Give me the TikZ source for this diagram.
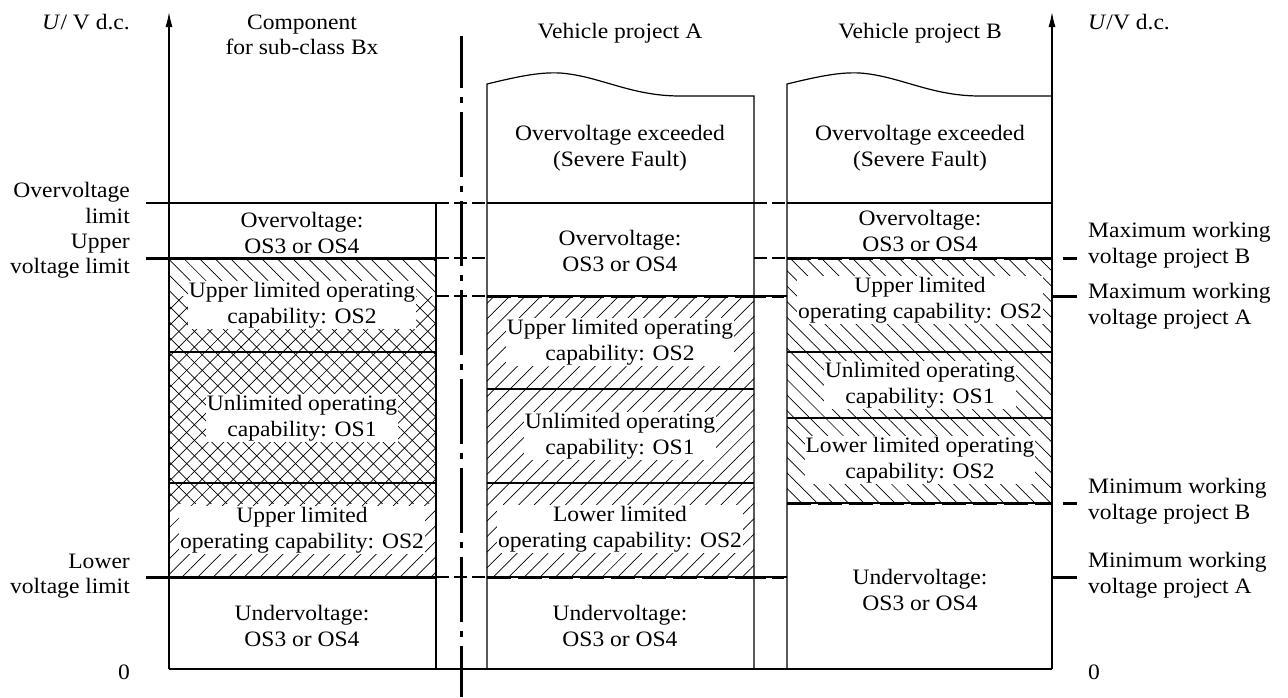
\documentclass[tikz,border=0pt]{standalone}
\usepackage{fontspec}
\setmainfont{Liberation Serif}[FakeStretch=1.07]
\usetikzlibrary{patterns.meta,arrows.meta}
\begin{document}
\begin{tikzpicture}[x=1pt,y=-1pt,
  ln/.style={line width=1.2pt},
  thk/.style={line width=3pt},
  cdash/.style={line width=1.2pt,dash pattern=on 13pt off 5pt},
  tdash/.style={line width=3pt,dash pattern=on 24pt off 7pt},
  sdash/.style={line width=3pt,dash pattern=on 12pt off 6pt},
  ddot/.style={line width=3pt,dash pattern=on 65pt off 9pt on 6pt off 9pt,dash phase=13pt},
  txt/.style={font=\fontsize{22}{25.5}\selectfont,inner sep=1pt},
  cl/.style={txt,align=center},
  wl/.style={cl,fill=white},
  ll/.style={txt,align=right,anchor=east},
  rl/.style={txt,align=left,anchor=west},
  hne/.style={pattern={Lines[angle=45,distance=11pt,line width=0.7pt]}},
  hnw/.style={pattern={Lines[angle=-45,distance=11pt,line width=0.7pt]}},
  axarrow/.style={ln,-{Latex[length=15pt,width=7pt]}}]
\useasboundingbox (0,0) rectangle (1288,697);
\fill[white] (0,0) rectangle (1288,697);

% hatching
\fill[hnw] (169,258) rectangle (436,503);
\fill[hne] (169,296) rectangle (436,577);
\fill[hne] (487,296) rectangle (754,577);
\fill[hnw] (787,258) rectangle (1052,503);

% axes
\coordinate (L0) at (169,669); \coordinate (L1) at (169,12);
\coordinate (R0) at (1052,669); \coordinate (R1) at (1052,12);
\draw[axarrow] (L0) -- (L1);
\draw[axarrow] (R0) -- (R1);

% left column
\draw[ln] (146,203) -- (436,203);
\draw[ln] (436,203) -- (436,669);
\draw[ln] (169,352) -- (436,352);
\draw[ln] (169,483) -- (436,483);
\draw[thk] (146,258) -- (436,258);
\draw[thk] (146,577) -- (436,577);
\draw[ln] (L0) -- (R0);

% column A
\draw[ln] (487,669) -- (487,84) .. controls (520,76) and (540,72) .. (560,73) .. controls (600,76) and (630,96) .. (680,96) -- (754,96) -- (754,669);
\draw[ln] (487,203) -- (754,203);
\draw[ln] (487,389) -- (754,389);
\draw[ln] (487,483) -- (754,483);
\draw[ln] (487,296) -- (754,296); \draw[tdash] (487,296) -- (754,296);
\draw[ln] (487,577) -- (754,577); \draw[tdash] (487,577) -- (754,577);

% column B
\draw[ln] (787,669) -- (787,84) .. controls (820,76) and (840,72) .. (860,73) .. controls (900,76) and (930,96) .. (980,96) -- (1052,96);
\draw[ln] (787,203) -- (1052,203);
\draw[ln] (787,352) -- (1052,352);
\draw[ln] (787,418) -- (1052,418);
\draw[ln] (787,258) -- (1052,258); \draw[tdash] (787,258) -- (1052,258);
\draw[ln] (787,503) -- (1052,503); \draw[tdash] (787,503) -- (1052,503);

% connecting dashed lines
\draw[cdash] (436,203) -- (487,203);
\draw[cdash] (754,203) -- (787,203);
\draw[cdash] (436,258) -- (487,258);
\draw[cdash] (754,258) -- (787,258);
\draw[cdash] (436,296) -- (487,296);
\draw[cdash] (436,577) -- (487,577);
\draw[ln] (754,296) -- (787,296); \draw[sdash] (754,296) -- (787,296);
\draw[ln] (754,577) -- (787,577); \draw[sdash] (754,577) -- (787,577);

% right ticks
\draw[thk] (1063,258) -- (1077,258);
\draw[thk] (1052,296) -- (1077,296);
\draw[thk] (1063,503) -- (1077,503);
\draw[thk] (1052,577) -- (1077,577);

% dash-dot separator
\coordinate (S0) at (461,36); \coordinate (S1) at (461,697);
\draw[ddot] (S0) -- (S1);

% headings
\node[ll] (uL) at (131,22) {\textit{U}/ V d.c.};
\node[rl] (uR) at (1087,22) {\textit{U}/V d.c.};
\node[cl] (hC) at (302,35) {Component\\for sub-class Bx};
\node[cl] (hA) at (620,33) {Vehicle project A};
\node[cl] (hB) at (920,33) {Vehicle project B};

% left labels
\node[ll] (lOV) at (131,203) {Overvoltage\\limit};
\node[ll] (lUV) at (131,256) {Upper\\voltage limit};
\node[ll] (lLV) at (131,576) {Lower\\voltage limit};
\node[ll] (l0) at (131,672) {0};

% right labels
\node[rl] (rMB) at (1087,245) {Maximum working\\voltage project B};
\node[rl] (rMA) at (1087,306) {Maximum working\\voltage project A};
\node[rl] (rNB) at (1087,501) {Minimum working\\voltage project B};
\node[rl] (rNA) at (1087,575) {Minimum working\\voltage project A};
\node[rl] (r0) at (1087,672) {0};

% left column texts
\node[wl] (c1) at (302,233) {Overvoltage:\\OS3 or OS4};
\node[wl] (c2) at (302,305) {Upper limited operating\\capability: OS2};
\node[wl] (c3) at (302,418) {Unlimited operating\\capability: OS1};
\node[wl] (c4) at (302,530) {Upper limited\\operating capability: OS2};
\node[wl] (c5) at (302,626) {Undervoltage:\\OS3 or OS4};

% column A texts
\node[wl] (a0) at (620,148) {Overvoltage exceeded\\(Severe Fault)};
\node[wl] (a1) at (620,251) {Overvoltage:\\OS3 or OS4};
\node[wl] (a2) at (620,342) {Upper limited operating\\capability: OS2};
\node[wl] (a3) at (620,436) {Unlimited operating\\capability: OS1};
\node[wl] (a4) at (620,529) {Lower limited\\operating capability: OS2};
\node[wl] (a5) at (620,626) {Undervoltage:\\OS3 or OS4};

% column B texts
\node[wl] (b0) at (920,148) {Overvoltage exceeded\\(Severe Fault)};
\node[wl] (b1) at (920,231) {Overvoltage:\\OS3 or OS4};
\node[wl] (b2) at (920,300) {Upper limited\\operating capability: OS2};
\node[wl] (b3) at (920,385) {Unlimited operating\\capability: OS1};
\node[wl] (b4) at (920,460) {Lower limited operating\\capability: OS2};
\node[wl] (b5) at (920,590) {Undervoltage:\\OS3 or OS4};
\end{tikzpicture}
\end{document}
